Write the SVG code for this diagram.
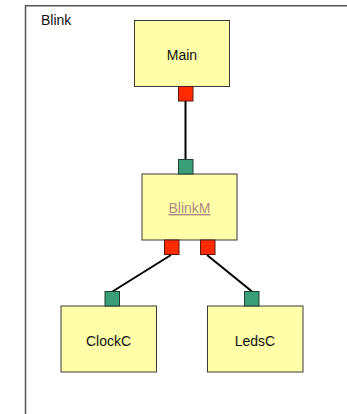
<svg xmlns="http://www.w3.org/2000/svg" width="347" height="414" viewBox="0 0 347 414">
<style>
.frame{fill:none;stroke:#555;stroke-width:1.5}
.box{fill:#ffffaa;stroke:#3a3a3a;stroke-width:1}
.out{fill:#ff2a00;stroke:#5a1a10;stroke-width:1}
.in{fill:#3a9e78;stroke:#1f3f33;stroke-width:1}
.wire{stroke:#000;stroke-width:2;fill:none}
text{font-family:"Liberation Sans",Arial,sans-serif;font-size:14px;fill:#111}
.lbl{text-anchor:middle}
.link{fill:#b08a80;text-decoration:underline}
</style>
<rect width="347" height="414" fill="#fff"/>
<g id="frame">
<path class="frame" d="M25.5,430 V5.75 H347"/>
<text x="41" y="25">Blink</text>
</g>
<g id="connectors">
<line class="wire" x1="185.5" y1="101" x2="185.5" y2="159.5"/>
<line class="wire" x1="171" y1="255" x2="112.5" y2="291.5"/>
<line class="wire" x1="207" y1="255" x2="252" y2="291.5"/>
</g>
<g id="Main">
<rect class="box" x="134.5" y="20.5" width="95" height="66"/>
<text class="lbl" x="182" y="60">Main</text>
<rect class="out" x="178.5" y="86.5" width="14.5" height="14.5"/>
</g>
<g id="BlinkM">
<rect class="box" x="142" y="174" width="95" height="66"/>
<text class="lbl link" x="189.5" y="213">BlinkM</text>
<rect class="in" x="178.5" y="159.5" width="14.5" height="14.5"/>
<rect class="out" x="164.5" y="240" width="14.5" height="14.5"/>
<rect class="out" x="200.5" y="240" width="14.5" height="14.5"/>
</g>
<g id="ClockC">
<rect class="box" x="61" y="306" width="95.5" height="66"/>
<text class="lbl" x="108.5" y="345.5">ClockC</text>
<rect class="in" x="105" y="291.5" width="14.5" height="14.5"/>
</g>
<g id="LedsC">
<rect class="box" x="207.5" y="306" width="95.5" height="66"/>
<text class="lbl" x="255" y="345.5">LedsC</text>
<rect class="in" x="244.5" y="291.5" width="14.5" height="14.5"/>
</g>
</svg>
